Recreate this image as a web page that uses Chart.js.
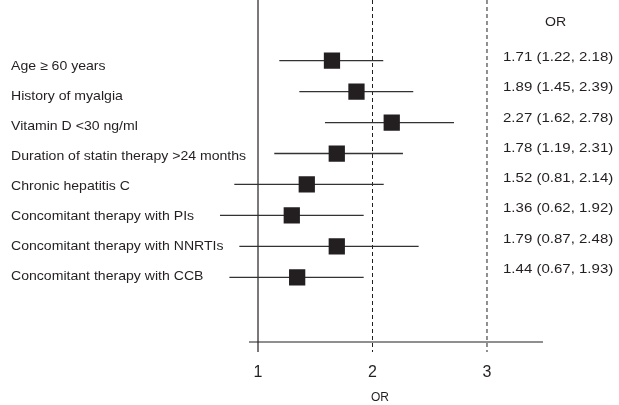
<!DOCTYPE html>
<html>
<head>
<meta charset="utf-8">
<script src="https://cdn.jsdelivr.net/npm/chart.js@4.4.1/dist/chart.umd.min.js"></script>
<style>
  body { margin: 0; background: #fff; }
  canvas { display: block; }
</style>
</head>
<body>
<canvas id="forestChart" width="619" height="405"></canvas>
<script>
// Datos
const categories = [
    'Age \u2265 60 years',
    'History of myalgia',
    'Vitamin D <30 ng/ml',
    'Duration of statin therapy >24 months',
    'Chronic hepatitis C',
    'Concomitant therapy with PIs',
    'Concomitant therapy with NNRTIs',
    'Concomitant therapy with CCB'
];
const orLabels = [
    '1.71 (1.22, 2.18)',
    '1.89 (1.45, 2.39)',
    '2.27 (1.62, 2.78)',
    '1.78 (1.19, 2.31)',
    '1.52 (0.81, 2.14)',
    '1.36 (0.62, 1.92)',
    '1.79 (0.87, 2.48)',
    '1.44 (0.67, 1.93)'
];
// posiciones dibujadas de los cuadrados y de los intervalos
const estimates = [1.646, 1.86, 2.168, 1.688, 1.426, 1.295, 1.688, 1.342];
const lower = [1.186, 1.361, 1.585, 1.142, 0.793, 0.668, 0.837, 0.75];
const upper = [2.094, 2.356, 2.712, 2.266, 2.098, 1.923, 2.403, 1.923];
const xTicks = [1, 2, 3];
const refSolid = 1;
const refDashed = [2, 3];
const axisRange = [0.921, 3.489];

const FONT = "'Liberation Sans', Arial, Helvetica, sans-serif";
const INK = '#231f20';
Chart.defaults.font.family = FONT;
Chart.defaults.color = INK;

// Texto un poco ensanchado, como en la figura original
function textoAncho(ctx, texto, x, y, sx) {
    ctx.save();
    ctx.translate(x, y);
    ctx.scale(sx, 1);
    ctx.fillText(texto, 0, 0);
    ctx.restore();
}

// Plugin para dibujar ejes, lineas de referencia, intervalos y textos
const forestPlugin = {
    id: 'forest',
    beforeDatasetsDraw(chart) {
        const ctx = chart.ctx;
        const x = chart.scales.x;
        const y = chart.scales.y;
        const area = chart.chartArea;
        const axisY = area.bottom - 18.2;

        ctx.save();
        ctx.strokeStyle = INK;
        ctx.lineWidth = 1.2;

        // linea del eje
        ctx.beginPath();
        ctx.moveTo(x.getPixelForValue(axisRange[0]), axisY);
        ctx.lineTo(x.getPixelForValue(axisRange[1]), axisY);
        ctx.stroke();

        // linea solida en OR = 1
        ctx.beginPath();
        ctx.moveTo(x.getPixelForValue(refSolid), area.top);
        ctx.lineTo(x.getPixelForValue(refSolid), axisY + 10);
        ctx.stroke();

        // lineas punteadas
        ctx.setLineDash([4, 3]);
        ctx.lineWidth = 1;
        refDashed.forEach(v => {
            ctx.beginPath();
            ctx.moveTo(x.getPixelForValue(v), area.top);
            ctx.lineTo(x.getPixelForValue(v), axisY + 10);
            ctx.stroke();
        });
        ctx.setLineDash([]);

        // intervalos de confianza
        ctx.lineWidth = 1.3;
        ctx.strokeStyle = '#333';
        for (let i = 0; i < estimates.length; i++) {
            const py = y.getPixelForValue(i);
            ctx.beginPath();
            ctx.moveTo(x.getPixelForValue(lower[i]), py);
            ctx.lineTo(x.getPixelForValue(upper[i]), py);
            ctx.stroke();
        }
        ctx.restore();
    },
    afterDraw(chart) {
        const ctx = chart.ctx;
        const y = chart.scales.y;
        const n = categories.length;
        ctx.save();
        ctx.fillStyle = INK;
        ctx.textBaseline = 'middle';
        ctx.textAlign = 'left';

        // etiquetas de la izquierda
        ctx.font = '12.8px ' + FONT;
        categories.forEach((label, i) => {
            const off = 6 + (-0.6 - 6) * i / (n - 1);
            textoAncho(ctx, label, 11, y.getPixelForValue(i) + off, 1.1);
        });

        // columna OR de la derecha
        ctx.font = '13.3px ' + FONT;
        orLabels.forEach((txt, i) => {
            const off = -3.4 + (-8 + 3.4) * i / (n - 1);
            textoAncho(ctx, txt, 503, y.getPixelForValue(i) + off, 1.13);
        });
        ctx.font = '12.6px ' + FONT;
        textoAncho(ctx, 'OR', 545, y.getPixelForValue(0) - 38, 1.12);
        ctx.restore();
    }
};

function dibujarGrafico() {
    const ctx = document.getElementById('forestChart').getContext('2d');
    new Chart(ctx, {
        type: 'scatter',
        data: {
            datasets: [{
                data: estimates.map((v, i) => ({ x: v, y: i })),
                pointStyle: 'rect',
                pointRadius: 11.5,
                pointHoverRadius: 11.5,
                backgroundColor: INK,
                borderWidth: 0
            }]
        },
        options: {
            responsive: false,
            animation: false,
            events: [],
            layout: { autoPadding: false, padding: { left: 200, right: 59, top: 0, bottom: 0 } },
            plugins: {
                legend: { display: false },
                tooltip: { enabled: false }
            },
            scales: {
                x: {
                    type: 'linear',
                    min: 0.4934,
                    max: 3.6376,
                    grid: { display: false, drawTicks: false },
                    border: { display: false },
                    afterBuildTicks: scale => {
                        scale.ticks = xTicks.map(v => ({ value: v }));
                    },
                    ticks: { font: { size: 16 }, color: INK, padding: 3 },
                    title: {
                        display: true,
                        text: 'OR',
                        font: { size: 12 },
                        color: INK,
                        padding: { top: 5.2, bottom: 0 }
                    }
                },
                y: {
                    type: 'linear',
                    display: false,
                    reverse: true,
                    min: -1.962,
                    max: 9.68
                }
            }
        },
        plugins: [forestPlugin]
    });
}

document.addEventListener('DOMContentLoaded', dibujarGrafico);
</script>
</body>
</html>
